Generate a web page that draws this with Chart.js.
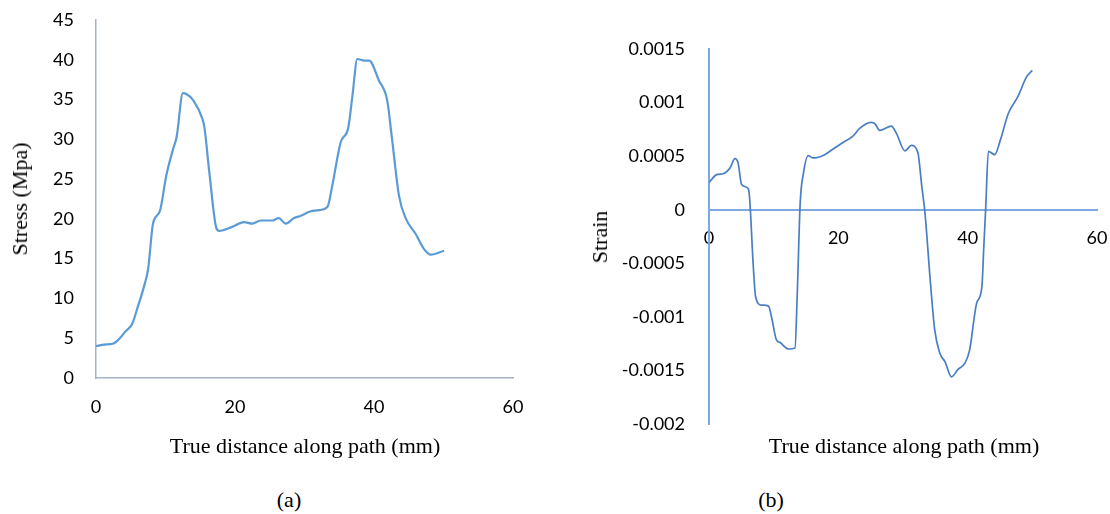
<!DOCTYPE html>
<html>
<head>
<meta charset="utf-8">
<script src="https://cdn.jsdelivr.net/npm/chart.js@4"></script>
<style>
  body { margin: 0; background: #fff; }
  #wrap { position: relative; width: 1110px; height: 514px; overflow: hidden; }
  .box { position: absolute; top: 0; width: 555px; height: 470px; }
  .lbl { position: absolute; font-family: "Liberation Serif", "Times New Roman", serif; font-size: 22px; color: #000; white-space: nowrap; }
  .rot { transform: translate(-50%, -50%) rotate(-90deg); }
  .ctr { transform: translate(-50%, -50%); }
</style>
</head>
<body>
<div id="wrap">
  <div class="box" style="left:0"><canvas id="chartA"></canvas></div>
  <div class="box" style="left:555px"><canvas id="chartB"></canvas></div>
  <div class="lbl ctr" style="left:305px; top:446px">True distance along path (mm)</div>
  <div class="lbl ctr" style="left:904px; top:446px">True distance along path (mm)</div>
  <div class="lbl rot" style="left:20px; top:199px">Stress (Mpa)</div>
  <div class="lbl rot" style="left:600px; top:237px">Strain</div>
  <div class="lbl ctr" style="left:289px; top:500px">(a)</div>
  <div class="lbl ctr" style="left:771px; top:500px">(b)</div>
</div>
<script>
'use strict';

// (a) stress along the path
const distA = [0, 1.2, 2.4, 3.1, 4.3, 5.2, 6.0, 7.0, 7.5, 8.2, 9.2, 10.1, 11.1, 11.6, 12.5, 13.0, 14.0, 15.3, 15.6, 16.3,
  17.3, 17.7, 19.6, 21.3, 22.5, 23.7, 25.4, 26.3, 27.3, 28.5, 29.5, 30.7, 32.1, 33.3, 34.0, 35.2, 36.3, 36.9, 37.6,
  38.6, 39.3, 40.7, 41.9, 42.6, 43.6, 44.6, 46.0, 47.2, 48.2, 50.1];
const stress = [4.0, 4.2, 4.3, 4.7, 5.9, 6.8, 8.9, 11.8, 13.7, 19.4, 21.0, 25.4, 28.8, 30.3, 35.8, 35.7, 34.9, 32.6, 31.5, 25.9,
  18.9, 18.5, 19.0, 19.6, 19.4, 19.8, 19.8, 20.1, 19.4, 20.1, 20.4, 20.9, 21.1, 21.5, 24.2, 29.6, 31.5, 35.5, 40.1,
  39.9, 39.9, 37.4, 34.9, 30.0, 22.9, 20.0, 18.1, 16.2, 15.5, 16.0];

// (b) strain along the path
const distB = [0, 1.2, 2.2, 3.25, 4.0, 4.5, 5.05, 6.1, 6.3, 6.85, 7.2, 8.1, 9.2, 9.7, 10.4, 11.0, 12.3, 13.3, 13.65, 14.1,
  14.6, 15.35, 16.1, 17.9, 19.2, 20.6, 22.3, 23.3, 25.1, 25.7, 26.4, 28.2, 29.0, 30.3, 31.3, 32.3, 32.9, 33.4, 34.2,
  34.9, 35.7, 36.5, 37.5, 38.5, 39.6, 40.3, 41.4, 42.2, 42.5, 42.8, 43.2, 44.2, 45.0, 46.3, 47.8, 49.1, 50.0];
const strain = [0.000255, 0.000327, 0.000336, 0.000389, 0.000476, 0.000436, 0.000233, 0.000193, 0.000093, -0.00053,
  -0.00081, -0.00089, -0.0009, -0.00101, -0.00121, -0.00124, -0.0013, -0.00129, -0.00078, 0.00006,
  0.00034, 0.000504, 0.000483, 0.000514, 0.000567, 0.000623, 0.00069, 0.00076, 0.000815, 0.0008,
  0.00074, 0.00078, 0.00071, 0.00055, 0.0006, 0.000535, 0.00022, -0.00003, -0.00065, -0.00112,
  -0.00134, -0.00142, -0.00156, -0.00149, -0.00143, -0.00131, -0.00087, -0.00072, -0.00034, 0.00003,
  0.000545, 0.000514, 0.00064, 0.0009, 0.00106, 0.00124, 0.0013];

const xTicks = [0, 20, 40, 60];
const stressTicks = [0, 5, 10, 15, 20, 25, 30, 35, 40, 45];
const strainTicks = [-0.002, -0.0015, -0.001, -0.0005, 0, 0.0005, 0.001, 0.0015];

const tickFont = { family: 'Lato', size: 18 };

function pairs(xs, ys) {
  return xs.map((x, i) => ({ x: x, y: ys[i] }));
}

function setTicks(list) {
  return function (scale) {
    scale.ticks = list.map(v => ({ value: v }));
  };
}

// fix the axis box size and stop tick labels from pushing the plot area in
function fitTo(w, h) {
  return function (s) {
    if (w != null) s.width = w;
    if (h != null) s.height = h;
    s.paddingTop = s.paddingBottom = s.paddingLeft = s.paddingRight = 0;
  };
}

function fmt(v) {
  return String(Number(v.toFixed(4)));
}

// (a)
new Chart(document.getElementById('chartA'), {
  type: 'line',
  data: {
    datasets: [{
      data: pairs(distA, stress),
      borderColor: '#5B9BD5',
      borderWidth: 2.2,
      pointRadius: 0,
      cubicInterpolationMode: 'monotone',
      fill: false
    }]
  },
  options: {
    responsive: true,
    maintainAspectRatio: false,
    animation: false,
    layout: { padding: { left: 0, top: 20, right: 42, bottom: 0 } },
    plugins: { legend: { display: false }, tooltip: { enabled: false } },
    scales: {
      x: {
        type: 'linear', min: 0, max: 60,
        afterBuildTicks: setTicks(xTicks),
        afterFit: fitTo(null, 92),
        grid: { display: false, drawTicks: false },
        border: { display: true, color: '#A6B2C8', width: 1.5 },
        ticks: { font: tickFont, color: '#000', padding: 18, maxRotation: 0 }
      },
      y: {
        min: 0, max: 45,
        afterBuildTicks: setTicks(stressTicks),
        afterFit: fitTo(96, null),
        grid: { display: false, drawTicks: false },
        border: { display: true, color: '#A6B2C8', width: 1.5 },
        ticks: { font: tickFont, color: '#000', padding: 22 }
      }
    }
  }
});

// (b)
new Chart(document.getElementById('chartB'), {
  type: 'line',
  data: {
    datasets: [{
      data: pairs(distB, strain),
      borderColor: '#4A7EC4',
      borderWidth: 1.7,
      pointRadius: 0,
      cubicInterpolationMode: 'monotone',
      fill: false
    }]
  },
  options: {
    responsive: true,
    maintainAspectRatio: false,
    animation: false,
    layout: { padding: { left: 0, top: 49, right: 13, bottom: 46 } },
    plugins: { legend: { display: false }, tooltip: { enabled: false } },
    scales: {
      x: {
        type: 'linear', min: 0, max: 60,
        position: { y: 0 },
        afterBuildTicks: setTicks(xTicks),
        afterFit: fitTo(null, null),
        grid: { display: false, drawTicks: false },
        border: { display: true, color: '#7FA8E0', width: 2 },
        ticks: { font: tickFont, color: '#000', padding: 18, maxRotation: 0 }
      },
      y: {
        min: -0.002, max: 0.0015,
        afterBuildTicks: setTicks(strainTicks),
        afterFit: fitTo(154, null),
        grid: { display: false, drawTicks: false },
        border: { display: true, color: '#7FA8E0', width: 2 },
        ticks: { font: tickFont, color: '#000', padding: 24, callback: v => fmt(v) }
      }
    }
  }
});
</script>
</body>
</html>
